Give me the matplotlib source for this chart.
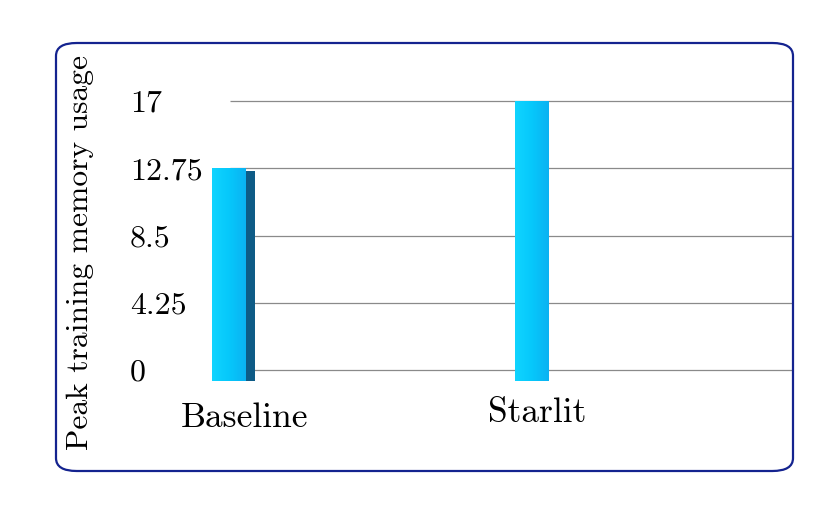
import matplotlib
matplotlib.use("Agg")
import matplotlib.pyplot as plt
import numpy as np
from matplotlib.patches import FancyBboxPatch
from matplotlib.colors import LinearSegmentedColormap

categories = ["Baseline", "Starlit"]
values = [12.75, 17]
yticks = [0, 4.25, 8.5, 12.75, 17]
ytick_labels = ["0", "4.25", "8.5", "12.75", "17"]
ylabel = "Peak training memory usage"
show_side = [True, False]

plt.rcParams["font.family"] = "serif"
plt.rcParams["font.serif"] = ["cmr10", "DejaVu Serif"]
plt.rcParams["axes.formatter.use_mathtext"] = True

fig = plt.figure(figsize=(8.3, 5.15), dpi=100)
W, H = 830, 515

# rounded frame
box = FancyBboxPatch((56 / W, (515 - 471) / H), (793 - 56) / W, (471 - 43) / H,
                     boxstyle="round,pad=0,rounding_size=0.025",
                     transform=fig.transFigure, facecolor="none",
                     edgecolor="#14238f", linewidth=1.6)
fig.patches.append(box)

ax = fig.add_axes([130 / W, (515 - 395) / H, (793 - 130) / W, 305 / H])
for s in ax.spines.values():
    s.set_visible(False)

x = np.arange(len(categories))
ax.hlines(yticks, 0.003, 1.861, color="#8a8a8a", linewidth=0.9, zorder=1)

base = -0.7
width = 0.11
cmap = LinearSegmentedColormap.from_list("cy", ["#10d4ff", "#06c8fb", "#0bb2f2"])
grad = np.linspace(0, 1, 64).reshape(1, -1)
for xi, v, side in zip(x, values, show_side):
    if side:
        ax.bar(xi + 0.032, v - base - 0.15, width=width, bottom=base, color="#0e5b86",
               zorder=2, linewidth=0)
    bars = ax.bar(xi, v - base, width=width, bottom=base, color="#0cc6fa",
                  zorder=3, linewidth=0)
    b = bars[0]
    im = ax.imshow(grad, cmap=cmap, aspect="auto", zorder=4,
                   extent=[xi - width / 2, xi + width / 2, base, v])
    im.set_clip_path(b)
ax.set_xlim(-0.327, 1.861)
ax.set_ylim(-1.58, 17.7)

ax.set_yticks(yticks)
ax.set_yticklabels(ytick_labels, fontsize=23)
ax.tick_params(axis="y", length=0, pad=0)
for t in ax.get_yticklabels():
    t.set_horizontalalignment("left")

ax.set_xticks([])
label_dx = [0.05, 0.017]
label_y = [-3.05, -2.7]
for xi, c, dx, yy in zip(x, categories, label_dx, label_y):
    ax.text(xi + dx, yy, c, ha="center", va="center", fontsize=25.5)

fig.text(80 / W, 1 - 253 / H, ylabel, rotation=90, ha="center", va="center",
         fontsize=22.7)

fig.savefig("out.png", dpi=100)
